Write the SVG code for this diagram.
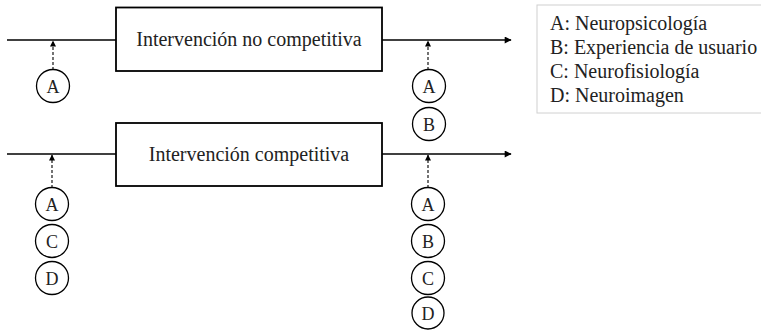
<svg xmlns="http://www.w3.org/2000/svg" width="761" height="330" viewBox="0 0 761 330">
<style>
text{fill:#222}
.box{fill:#fff;stroke:#000;stroke-width:1.8}
.flow{stroke:#000;stroke-width:1.6;fill:none}
.dash{stroke:#000;stroke-width:1.1;stroke-dasharray:3 2;fill:none}
.c{fill:#fff;stroke:#000;stroke-width:1.3}
.lbl{font-size:20px;text-anchor:middle}
.cl{font-size:18px;text-anchor:middle}
.leg{font-size:20px}
</style>
<defs>
<marker id="ah" viewBox="0 0 10 10" refX="9" refY="5" markerWidth="9" markerHeight="7" markerUnits="userSpaceOnUse" orient="auto"><path d="M0,0 L10,5 L0,10 z" fill="#000"/></marker>
<marker id="ahs" viewBox="0 0 10 10" refX="9" refY="5" markerWidth="7" markerHeight="6" markerUnits="userSpaceOnUse" orient="auto"><path d="M0,0 L10,5 L0,10 z" fill="#000"/></marker>
</defs>
<g id="connectors">
<line class="flow" x1="7" y1="40" x2="116" y2="40"/>
<line class="flow" x1="382" y1="40" x2="511" y2="40" marker-end="url(#ah)"/>
<line class="flow" x1="7" y1="154" x2="116" y2="154"/>
<line class="flow" x1="382" y1="154" x2="511" y2="154" marker-end="url(#ah)"/>
<line class="dash" x1="53" y1="70" x2="53" y2="41" marker-end="url(#ahs)"/>
<line class="dash" x1="428" y1="70" x2="428" y2="41" marker-end="url(#ahs)"/>
<line class="dash" x1="52" y1="188" x2="52" y2="155" marker-end="url(#ahs)"/>
<line class="dash" x1="428" y1="188" x2="428" y2="155" marker-end="url(#ahs)"/>
</g>
<g font-family="Liberation Serif, DejaVu Serif, serif">
<g id="box1"><rect class="box" x="116" y="7.5" width="266" height="63.5"/><text class="lbl" x="249" y="46">Intervención no competitiva</text></g>
<g id="box2"><rect class="box" x="116" y="123" width="266" height="63"/><text class="lbl" x="249" y="161">Intervención competitiva</text></g>
<g id="t1A"><circle class="c" cx="53" cy="86" r="16.5"/><text class="cl" x="53" y="92.5">A</text></g>
<g id="t2A"><circle class="c" cx="429" cy="86" r="16.5"/><text class="cl" x="429" y="92.5">A</text></g>
<g id="t2B"><circle class="c" cx="429" cy="124" r="16.5"/><text class="cl" x="429" y="130.5">B</text></g>
<g id="b1A"><circle class="c" cx="52" cy="204" r="16.5"/><text class="cl" x="52" y="210.5">A</text></g>
<g id="b1C"><circle class="c" cx="52" cy="241" r="16.5"/><text class="cl" x="52" y="247.5">C</text></g>
<g id="b1D"><circle class="c" cx="52" cy="278" r="16.5"/><text class="cl" x="52" y="284.5">D</text></g>
<g id="b2A"><circle class="c" cx="428" cy="204" r="16.5"/><text class="cl" x="428" y="210.5">A</text></g>
<g id="b2B"><circle class="c" cx="428" cy="241" r="16.5"/><text class="cl" x="428" y="247.5">B</text></g>
<g id="b2C"><circle class="c" cx="428" cy="278" r="16.5"/><text class="cl" x="428" y="284.5">C</text></g>
<g id="b2D"><circle class="c" cx="428" cy="313" r="16"/><text class="cl" x="428" y="319.5">D</text></g>
<g id="legend">
<rect x="537" y="5" width="230" height="108" fill="#fff" stroke="#d0d0d0" stroke-width="1"/>
<text class="leg" x="550" y="30">A: Neuropsicología</text>
<text class="leg" x="550" y="54">B: Experiencia de usuario</text>
<text class="leg" x="550" y="78">C: Neurofisiología</text>
<text class="leg" x="550" y="102">D: Neuroimagen</text>
</g>
</g>
</svg>
